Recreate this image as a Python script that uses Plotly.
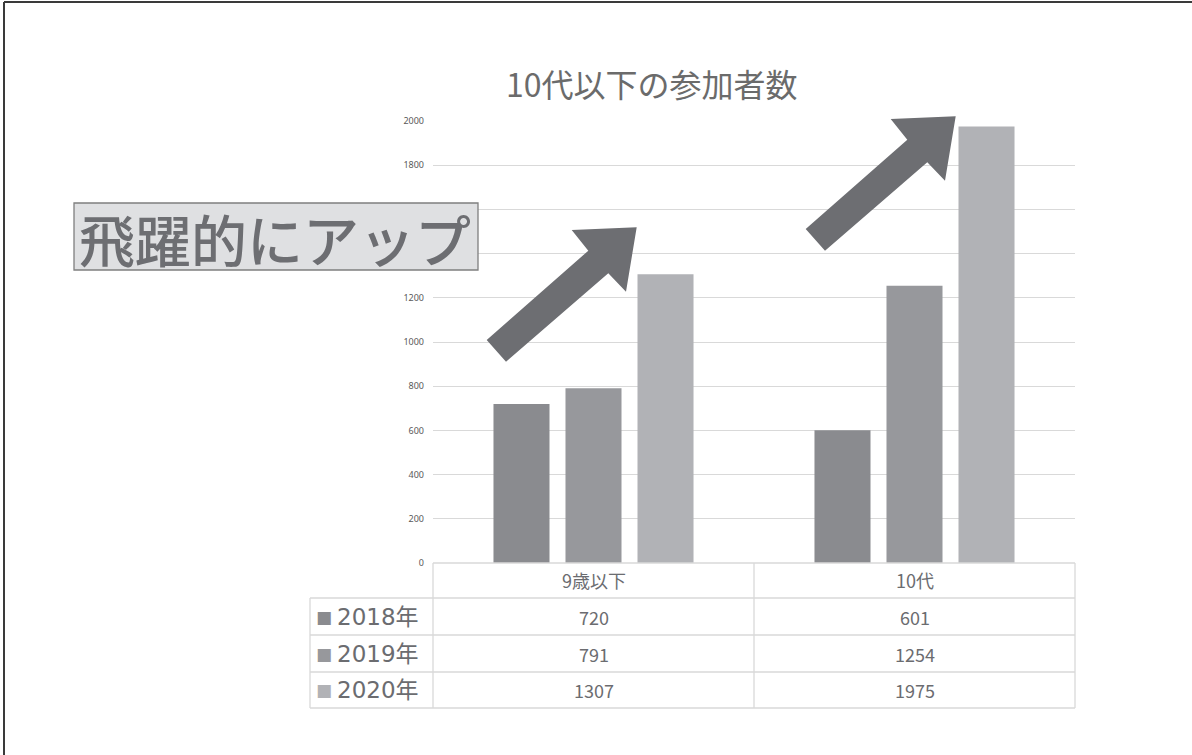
import plotly.graph_objects as go

# ---- data ----
categories = ["9歳以下", "10代"]
series_names = ["2018年", "2019年", "2020年"]
values_2018 = [720, 601]
values_2019 = [791, 1254]
values_2020 = [1307, 1975]
series_values = [values_2018, values_2019, values_2020]
series_colors = ["#8a8b8f", "#97989c", "#b1b2b6"]
y_ticks = [0, 200, 400, 600, 800, 1000, 1200, 1400, 1600, 1800, 2000]
title_text = "10代以下の参加者数"
callout_text = "飛躍的にアップ"

# ---- layout geometry (pixels) ----
W, H = 1192, 755
ML, MR, MT, MB = 433, 117, 121, 192
PW, PH = W - ML - MR, H - MT - MB
Y_MAX = 2000
BOX = dict(x0=74, x1=478, y0=203, y1=270)


def px(x):
    return (x - ML) / PW


def py(y):
    return (H - MB - y) / PH


def val_to_py(v):
    return H - MB - v / Y_MAX * PH


JP = "Noto Sans CJK JP, Noto Sans, sans-serif"
TXT = "#6b6c70"
GRID = "#d9d9d9"

fig = go.Figure()
for name, vals, col in zip(series_names, series_values, series_colors):
    fig.add_trace(go.Bar(x=categories, y=vals, name=name, marker_color=col,
                         marker_line_width=0, hoverinfo="x+y+name"))

shapes = []
annotations = []


def ann(**kw):
    base = dict(showarrow=False, xanchor="center", yanchor="middle")
    base.update(kw)
    annotations.append(base)


# table lines
tl = dict(type="line", xref="paper", yref="paper", line=dict(color=GRID, width=1.3))
for yy, x0 in [(563, 433), (598, 310), (635, 310), (672, 310), (708, 310)]:
    shapes.append(dict(tl, x0=px(x0), x1=px(1075), y0=py(yy), y1=py(yy)))
for xx, y0 in [(310, 598), (433, 563), (754, 563), (1075, 563)]:
    shapes.append(dict(tl, x0=px(xx), x1=px(xx), y0=py(y0), y1=py(708)))

# table category header
for c in categories:
    ann(x=c, y=py(580), xref="x", yref="paper", text=c,
        font=dict(family=JP, size=18, color=TXT))
# table rows
row_centers = [617, 654, 690]
for name, vals, col, yc in zip(series_names, series_values, series_colors, row_centers):
    ann(x=px(324), y=py(yc), xref="paper", yref="paper", text="■",
        font=dict(family="DejaVu Sans", size=17, color=col))
    ann(x=px(335), y=py(yc), xref="paper", yref="paper", xanchor="left", text=name,
        font=dict(family="DejaVu Sans, " + JP, size=23, color=TXT))
    for c, v in zip(categories, vals):
        ann(x=c, y=py(yc), xref="x", yref="paper", text=str(v),
            font=dict(family=JP, size=18, color=TXT))

# title
ann(x=px(652), y=py(83), xref="paper", yref="paper", text=title_text,
    font=dict(family=JP, size=32, color="#6b6b6b"))

# arrows (decorative)
arrow = [(486.7, 340), (588.3, 250.7), (571.7, 230), (636.7, 227.3),
         (626, 291.7), (608.3, 273.3), (506, 361.7)]
for dx, dy in [(0, 0), (319, -111)]:
    path = "M " + " L ".join(f"{px(x + dx):.5f},{py(y + dy):.5f}" for x, y in arrow) + " Z"
    shapes.append(dict(type="path", xref="paper", yref="paper", path=path,
                       fillcolor="#6d6e72", line=dict(width=0)))

# callout box
shapes.append(dict(type="rect", xref="paper", yref="paper", x0=px(BOX["x0"]), x1=px(BOX["x1"]),
                   y0=py(BOX["y1"]), y1=py(BOX["y0"]), fillcolor="#dfe0e2",
                   line=dict(color="#7f7f7f", width=1.3)))
ann(x=px(275), y=py(237), xref="paper", yref="paper", text=callout_text,
    font=dict(family=JP, size=56, color="#6d6e72", weight=500))

# slide border (top and left)
shapes.append(dict(type="line", xref="paper", yref="paper", x0=px(4), x1=px(1192), y0=py(2), y1=py(2),
                   line=dict(color="#3a3a3a", width=2)))
shapes.append(dict(type="line", xref="paper", yref="paper", x0=px(4), x1=px(4), y0=py(2), y1=py(755),
                   line=dict(color="#3a3a3a", width=2)))

# tick labels hidden behind the callout box (as in the reference)
tick_text = ["" if BOX["y0"] - 6 <= val_to_py(v) <= BOX["y1"] + 6 else str(v) for v in y_ticks]

fig.update_layout(
    width=W, height=H,
    margin=dict(l=ML, r=MR, t=MT, b=MB, autoexpand=False),
    paper_bgcolor="white", plot_bgcolor="white",
    barmode="group", bargap=0.327, bargroupgap=0.222,
    showlegend=False,
    xaxis=dict(showticklabels=False, showgrid=False, zeroline=False, showline=False, ticks=""),
    yaxis=dict(range=[0, Y_MAX], tickvals=y_ticks, ticktext=tick_text, showgrid=True,
               gridcolor=GRID, gridwidth=1,
               zeroline=False, showline=False, ticks="", ticklabelstandoff=8,
               tickfont=dict(family="Noto Sans, " + JP, size=9, color="#595959")),
    shapes=shapes, annotations=annotations,
)

fig.write_html("out.html", config={"displayModeBar": False},
               post_script="document.body.style.margin='0';document.body.style.overflow='hidden';")
